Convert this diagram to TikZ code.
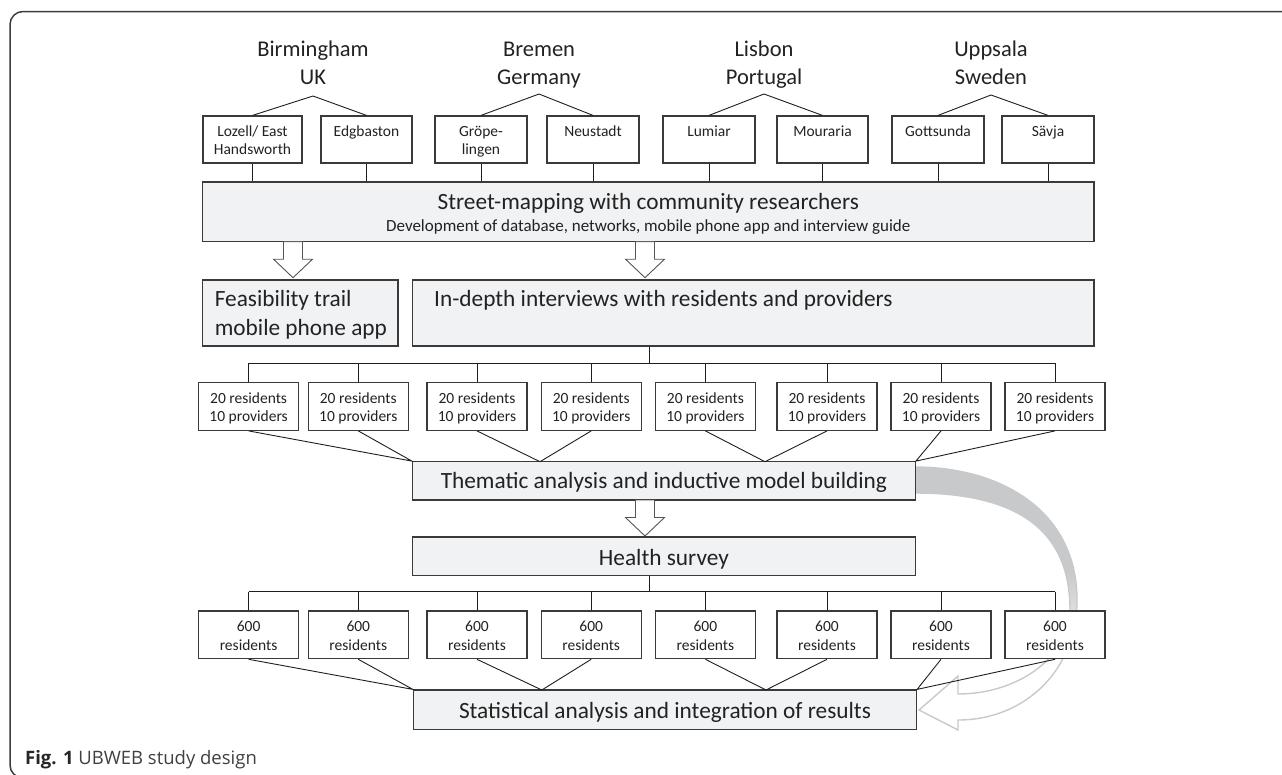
\documentclass[tikz,border=0pt]{standalone}
\usepackage{fontspec}
\setmainfont{Carlito}
\newfontfamily\capfont{Open Sans}
\definecolor{linec}{HTML}{1E1E1E}
\definecolor{boxc}{HTML}{3A3A3A}
\definecolor{grayfill}{HTML}{F1F2F3}
\definecolor{txtc}{HTML}{222222}
\definecolor{arrc}{HTML}{555555}
\definecolor{arrowgray}{HTML}{C8C9CA}
\definecolor{framec}{HTML}{3C3C3C}
\definecolor{capc}{HTML}{404040}
\newcommand\fbig{\fontsize{23.3}{27}\selectfont}
\newcommand\fcity{\fontsize{22.5}{27}\selectfont}
\newcommand\fsmall{\fontsize{15.5}{18}\selectfont}
\newcommand\fsub{\fontsize{17}{20}\selectfont}
\pgfdeclareverticalshading{curvshade}{100bp}{color(0bp)=(white); color(37bp)=(white); color(55bp)=(arrowgray); color(100bp)=(arrowgray)}
\tikzset{
  conn/.style={draw=linec, line width=0.9pt},
  wbox/.style={draw=boxc, fill=white, line width=1.2pt, inner sep=0pt},
  gbox/.style={draw=boxc, fill=grayfill, line width=1.2pt, inner sep=0pt},
  smalltext/.style={font=\fsmall, anchor=base, text=txtc, inner sep=0pt},
  bigtext/.style={font=\fbig, anchor=base, text=txtc, inner sep=0pt},
  citytext/.style={font=\fcity, anchor=base, text=txtc, inner sep=0pt},
  subtext/.style={font=\fsub, anchor=base, text=txtc, inner sep=0pt},
  barrowst/.style={draw=arrc, fill=white, line width=0.9pt, line join=miter},
  barrow/.pic={\path[barrowst] (-9.5,0) -- (-9.5,17.5) -- (-19.5,17.5) -- (0,36) -- (19.5,17.5) -- (9.5,17.5) -- (9.5,0) -- cycle;},
  framest/.style={draw=framec, line width=1.5pt},
}
\begin{document}
\begin{tikzpicture}[x=1pt,y=-1pt]
\useasboundingbox (0,0) rectangle (1282,774);
% frame
\draw[framest, rounded corners=13pt] (30,778) -- (10,778) -- (10,11.5) -- (1295,11.5);

% city labels
\node[citytext] (c1a) at (313,56.7) {Birmingham};
\node[citytext] (c1b) at (313,84.3) {UK};
\node[citytext] (c2a) at (539,56.7) {Bremen};
\node[citytext] (c2b) at (539,84.3) {Germany};
\node[citytext] (c3a) at (764,56.7) {Lisbon};
\node[citytext] (c3b) at (764,84.3) {Portugal};
\node[citytext] (c4a) at (991,56.7) {Uppsala};
\node[citytext] (c4b) at (991,84.3) {Sweden};
\coordinate (p1) at (313,96);
\coordinate (p2) at (539,94);
\coordinate (p3) at (764,94);
\coordinate (p4) at (991,95);

% street box
\node[gbox, minimum width=891.5pt, minimum height=59.7pt] (street) at (648.25,211.85) {};
\node[bigtext] (st1) at (648.25,209.3) {Street-mapping with community researchers};
\node[subtext] (st2) at (648.25,231.7) {Development of database, networks, mobile phone app and interview guide};

% neighbourhood boxes
\foreach \nm/\cx/\w in {n1/252.5/99, n2/366.5/91, n3/481/92, n4/593/92, n5/709/92, n6/822.5/91, n7/938/92, n8/1048/92}{
  \node[wbox, minimum width=\w pt, minimum height=47pt] (\nm) at (\cx,139.5) {};
  \draw[conn] (\nm.south) -- (\nm.south |- street.north);
}
\node[smalltext] (n1t) at (252.5,136) {Lozell/ East};
\node[smalltext] (n1u) at (252.5,154.3) {Handsworth};
\node[smalltext] (n2t) at (366.5,136) {Edgbaston};
\node[smalltext] (n3t) at (481,136) {Gröpe-};
\node[smalltext] (n3u) at (481,154.3) {lingen};
\node[smalltext] (n4t) at (593,136) {Neustadt};
\node[smalltext] (n5t) at (709,136) {Lumiar};
\node[smalltext] (n6t) at (822.5,136) {Mouraria};
\node[smalltext] (n7t) at (938,136) {Gottsunda};
\node[smalltext] (n8t) at (1048,136) {Sävja};
\draw[conn] (n1.north) -- (p1) -- (n2.north);
\draw[conn] (n3.north) -- (p2) -- (n4.north);
\draw[conn] (n5.north) -- (p3) -- (n6.north);
\draw[conn] (n7.north) -- (p4) -- (n8.north);

% block arrows from street box
\coordinate (ba1) at (293,241.7);
\coordinate (ba2) at (645,241.7);
\pic at (ba1) {barrow};
\pic at (ba2) {barrow};

% feasibility and in-depth
\node[gbox, minimum width=195.5pt, minimum height=66pt] (feas) at (300.25,313) {};
\node[bigtext, anchor=base west] (fe1) at (214.6,306.7) {Feasibility trail};
\node[bigtext, anchor=base west] (fe2) at (214.6,335) {mobile phone app};
\node[gbox, minimum width=681.5pt, minimum height=66pt] (indepth) at (753.25,313) {};
\node[bigtext, anchor=base west] (in1) at (434,306.7) {In-depth interviews with residents and providers};

% curved grey arrow (behind boxes)
\shadedraw[shading=curvshade, draw=arrowgray, line width=1.4pt, line join=miter]
  (915,467) .. controls (1000,467) and (1077,510) .. (1077,600)
  .. controls (1077,670) and (1025,720) .. (958,720)
  -- (958,730) -- (919,710) -- (958,676) -- (958,694)
  .. controls (1020,694) and (1070,655) .. (1070,610)
  .. controls (1070,540) and (1030,493) .. (915,493) -- cycle;

% interview boxes
\coordinate (bus1) at (649,363.3);
\foreach \i/\cx in {1/248.6, 2/358.3, 3/477, 4/591.2, 5/705.4, 6/827, 7/941, 8/1055}{
  \node[wbox, minimum width=100pt, minimum height=47.6pt] (r\i) at (\cx,406.5) {};
  \node[smalltext] (r\i a) at (\cx,403.3) {20 residents};
  \node[smalltext] (r\i b) at (\cx,421.7) {10 providers};
  \draw[conn] (r\i.north |- bus1) -- (r\i.north);
}
\draw[conn] (bus1 |- indepth.south) -- (bus1);
\draw[conn] (r1.north |- bus1) -- (r8.north |- bus1);

% thematic
\node[gbox, minimum width=502.8pt, minimum height=38.3pt] (them) at (663.9,480.85) {};
\node[bigtext] (th1) at (663.9,488.3) {Thematic analysis and inductive model building};
\coordinate (tj2) at (540,461.7);
\coordinate (tj3) at (765,461.7);
\draw[conn] (r1.south) -- (them.north west) -- (r2.south);
\draw[conn] (r3.south) -- (tj2) -- (r4.south);
\draw[conn] (r5.south) -- (tj3) -- (r6.south);
\draw[conn] (r7.south) -- (them.north east) -- (r8.south);
\coordinate (ba3) at (645,500);
\pic at (ba3) {barrow};

% health survey
\node[gbox, minimum width=502.8pt, minimum height=38.7pt] (health) at (663.9,556.35) {};
\node[bigtext] (he1) at (663.9,565) {Health survey};
\coordinate (bus2) at (649,591.7);
\foreach \i/\cx in {1/248.6, 2/358.3, 3/477, 4/591.2, 5/705.4, 6/827, 7/941, 8/1055}{
  \node[wbox, minimum width=100pt, minimum height=47.7pt] (s\i) at (\cx,634.85) {};
  \node[smalltext] (s\i a) at (\cx,631.7) {600};
  \node[smalltext] (s\i b) at (\cx,650) {residents};
  \draw[conn] (s\i.north |- bus2) -- (s\i.north);
}
\draw[conn] (bus2 |- health.south) -- (bus2);
\draw[conn] (s1.north |- bus2) -- (s8.north |- bus2);

% statistical
\node[gbox, minimum width=503pt, minimum height=39.3pt] (stat) at (665,709.65) {};
\node[bigtext] (sa1) at (665,718.3) {Statistical analysis and integration of results};
\coordinate (sj2) at (541.8,690);
\coordinate (sj3) at (766,690);
\draw[conn] (s1.south) -- (stat.north west) -- (s2.south);
\draw[conn] (s3.south) -- (sj2) -- (s4.south);
\draw[conn] (s5.south) -- (sj3) -- (s6.south);
\draw[conn] (s7.south) -- (stat.north east) -- (s8.south);

% caption
\node[anchor=base west, inner sep=0pt, font=\capfont\fontsize{18.5}{22}\selectfont, text=capc] (cap) at (25,764) {\textbf{\color{black!85}Fig. 1} UBWEB study design};
\end{tikzpicture}
\end{document}
